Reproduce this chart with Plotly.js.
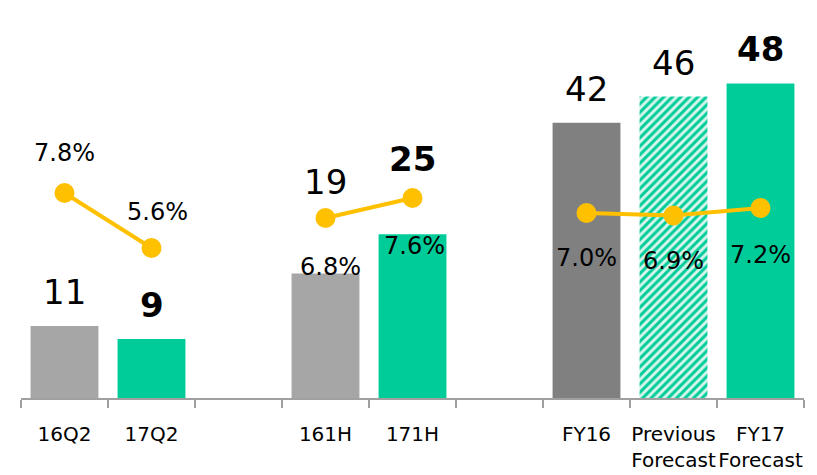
<!DOCTYPE html>
<html>
<head>
<meta charset="utf-8">
<script src="https://cdn.plot.ly/plotly-3.0.1.min.js"></script>
<style>html,body{margin:0;padding:0;background:#fff;}#chart{width:817px;height:475px;}</style>
</head>
<body>
<div id="chart"></div>
<script>
// ---- data ----
const categories = ['16Q2', '17Q2', ' ', '161H', '171H', '  ', 'FY16', 'Previous<br>Forecast', 'FY17<br>Forecast'];
const profitValues = [11, 9, null, 19, 25, null, 42, 46, 48];
const profitLabels = ['11', '<b>9</b>', '', '19', '<b>25</b>', '', '42', '46', '<b>48</b>'];
const marginValues = [7.8, 5.6, null, 6.8, 7.6, null, 7.0, 6.9, 7.2];
const marginLabels = ['7.8%', '5.6%', '', '6.8%', '7.6%', '', '7.0%', '6.9%', '7.2%'];
const isForecastBar = [false, false, false, false, false, false, false, true, false];

// ---- styles ----
const barColors = ['#A6A6A6', '#00CC99', '#fff', '#A6A6A6', '#00CC99', '#fff', '#808080', '#00CC99', '#00CC99'];
const profitShift = [12, 12, 0, 69, 53, 0, 12, 12, 12];
const marginShiftY = [40, 36, 0, -49, -48, -45, -45, -45, -47];
const marginShiftX = [0, 6, 0, 5, 2, 0, 0, 0, 0];
const FONT = '"DejaVu Sans", Verdana, sans-serif';

const solidBars = {
  type: 'bar', x: categories,
  y: profitValues.map((v, i) => isForecastBar[i] ? null : v),
  marker: { color: barColors },
  hoverinfo: 'skip', showlegend: false
};
const hatchedBars = {
  type: 'bar', x: categories,
  y: profitValues.map((v, i) => isForecastBar[i] ? v : null),
  marker: {
    color: '#00CC99',
    pattern: { shape: '/', fillmode: 'replace', bgcolor: '#D6F5EC', fgcolor: '#00CC99', fgopacity: 1, size: 6, solidity: 0.5 }
  },
  hoverinfo: 'skip', showlegend: false
};
const line = {
  type: 'scatter', mode: 'lines+markers', x: categories, y: marginValues, yaxis: 'y2',
  line: { color: '#FFC000', width: 4 },
  marker: { color: '#FFC000', size: 20 },
  connectgaps: false, hoverinfo: 'skip', showlegend: false
};

const annotations = [];
categories.forEach((c, i) => {
  if (profitValues[i] !== null) {
    annotations.push({
      x: c, y: profitValues[i], xref: 'x', yref: 'y', text: profitLabels[i],
      showarrow: false, yanchor: 'bottom', yshift: profitShift[i],
      font: { family: FONT, size: 34, color: '#000' }
    });
  }
  if (marginValues[i] !== null) {
    annotations.push({
      x: c, y: marginValues[i], xref: 'x', yref: 'y2', text: marginLabels[i],
      showarrow: false, yanchor: 'middle', yshift: marginShiftY[i], xshift: marginShiftX[i],
      font: { family: FONT, size: 24, color: '#000' }
    });
  }
});

const layout = {
  width: 817, height: 475,
  margin: { l: 21, r: 13, t: 10, b: 77 },
  paper_bgcolor: '#fff', plot_bgcolor: '#fff',
  font: { family: FONT, color: '#000' },
  barmode: 'overlay',
  bargap: 0.22,
  hovermode: false,
  xaxis: {
    type: 'category', categoryorder: 'array', categoryarray: categories,
    range: [-0.5, categories.length - 0.5],
    automargin: false, tickangle: 0,
    showline: true, linecolor: '#A0A0A0', linewidth: 1.5,
    ticks: 'outside', tickson: 'boundaries', ticklen: 8, tickcolor: '#A0A0A0', tickwidth: 1.5,
    tickfont: { family: FONT, size: 20, color: '#000' },
    ticklabelstandoff: 17,
    showgrid: false, zeroline: false, fixedrange: true
  },
  yaxis: {
    range: [0, 59.2], visible: false, showgrid: false, zeroline: false, fixedrange: true, automargin: false
  },
  yaxis2: {
    range: [-0.4, 15.12], overlaying: 'y', side: 'right', visible: false,
    showgrid: false, zeroline: false, fixedrange: true, automargin: false
  },
  annotations: annotations
};

Plotly.newPlot('chart', [solidBars, hatchedBars, line], layout, { displayModeBar: false, staticPlot: true });
</script>
</body>
</html>
